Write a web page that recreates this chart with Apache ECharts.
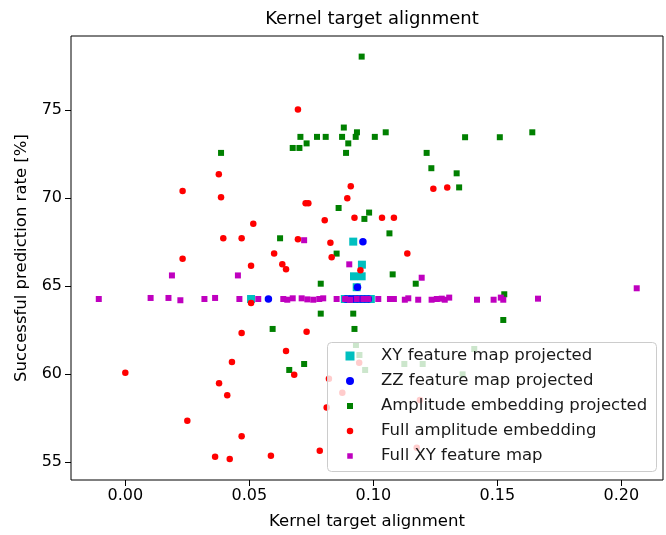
<!DOCTYPE html>
<html>
<head>
<meta charset="utf-8">
<script src="https://cdn.jsdelivr.net/npm/echarts@6/dist/echarts.min.js"></script>
<style>html,body{margin:0;padding:0;background:#fff}#c{width:666px;height:535px}</style>
</head>
<body>
<div id="c"></div>
<script>
const seriesNames = ['XY feature map projected','ZZ feature map projected','Amplitude embedding projected','Full amplitude embedding','Full XY feature map'];
const xTicks = [0, 0.05, 0.10, 0.15, 0.20];
const yTicks = [55, 60, 65, 70, 75];

const xyProjected = [[0.0507,64.26],[0.0919,67.52],[0.0954,66.21],[0.0922,65.55],[0.0953,65.55],[0.0933,64.93],
  [0.0885,64.26],[0.0900,64.26],[0.0915,64.26],[0.0930,64.26],[0.0945,64.26],[0.0960,64.26],[0.0975,64.26],[0.0990,64.26]];

const zzProjected = [[0.0958,67.52],[0.0936,64.93],[0.0577,64.26],
  [0.0890,64.26],[0.0905,64.26],[0.0920,64.26],[0.0935,64.26],[0.0950,64.26],[0.0965,64.26],[0.0980,64.26]];

const ampProjected = [[0.0953,78.03],[0.0386,72.56],[0.0706,73.47],[0.0675,72.84],[0.0702,72.84],[0.0731,73.10],
  [0.0773,73.47],[0.0808,73.47],[0.0881,74.00],[0.0874,73.47],[0.0899,73.10],[0.0890,72.56],[0.0929,73.47],
  [0.0934,73.73],[0.1006,73.47],[0.1050,73.73],[0.1215,72.56],[0.1234,71.69],[0.1370,73.45],[0.1510,73.45],
  [0.1641,73.73],[0.1336,71.40],[0.1346,70.60],[0.0860,69.43],[0.0983,69.17],[0.0964,68.81],[0.1065,67.99],
  [0.0624,67.71],[0.0852,66.84],[0.1078,65.66],[0.1171,65.13],[0.0788,65.13],[0.0788,63.43],[0.0919,63.43],
  [0.0594,62.56],[0.0924,62.56],[0.1528,64.53],[0.1524,63.07],[0.0661,60.23],[0.0721,60.57],[0.0930,61.65],
  [0.0944,61.08],[0.0967,60.23],[0.1125,60.57],[0.1199,60.57],[0.1407,61.42],[0.1360,59.98]];

const fullAmp = [[0.0696,75.02],[0.0377,71.35],[0.0231,70.40],[0.0386,70.04],[0.0909,70.66],[0.1242,70.53],
  [0.1298,70.60],[0.0895,69.98],[0.0727,69.70],[0.0738,69.70],[0.0516,68.54],[0.0804,68.73],[0.0924,68.88],
  [0.1035,68.88],[0.1083,68.88],[0.0395,67.71],[0.0469,67.71],[0.0696,67.65],[0.0827,67.46],[0.0600,66.84],
  [0.0832,66.63],[0.1137,66.84],[0.0231,66.55],[0.0507,66.15],[0.0633,66.23],[0.0648,65.95],[0.0948,65.89],
  [0.0507,64.03],[0.0469,62.33],[0.0731,62.40],[0.0648,61.31],[0.0681,59.96],[0.0430,60.68],[0.0000,60.07],
  [0.0378,59.47],[0.0411,58.79],[0.0250,57.35],[0.0469,56.46],[0.0362,55.30],[0.0421,55.17],[0.0587,55.36],
  [0.0784,55.64],[0.0943,60.64],[0.0821,59.73],[0.0875,58.94],[0.0812,58.10],[0.1188,58.52],[0.1175,55.81]];

const fullXY = [[0.0188,65.60],[0.0454,65.60],[0.0721,67.60],[0.0903,66.23],[0.1195,65.47],[0.2062,64.87],
  [-0.0107,64.26],[0.0102,64.32],[0.0174,64.32],[0.0222,64.19],[0.0319,64.26],[0.0362,64.32],[0.0460,64.26],
  [0.0536,64.26],[0.0637,64.26],[0.0653,64.22],[0.0675,64.30],[0.0711,64.30],[0.0734,64.24],[0.0758,64.22],
  [0.0782,64.26],[0.0798,64.30],[0.0852,64.26],[0.0886,64.26],[0.0906,64.22],[0.0933,64.26],[0.0960,64.26],
  [0.0980,64.26],[0.1020,64.26],[0.1067,64.26],[0.1083,64.26],[0.1127,64.22],[0.1141,64.30],[0.1181,64.22],
  [0.1235,64.22],[0.1256,64.26],[0.1276,64.28],[0.1288,64.22],[0.1306,64.34],[0.1418,64.22],[0.1485,64.22],
  [0.1514,64.34],[0.1524,64.22],[0.1664,64.28]];

const allData = [xyProjected, zzProjected, ampProjected, fullAmp, fullXY];
const colors = ['#00bfbf','#0000ff','#008000','#ff0000','#bf00bf'];
const symbols = ['rect','circle','rect','circle','rect'];
const sizes = [8,7.5,6,6.5,6];
const legendSizes = [9,8,6,6.5,5.5];
const legendRows = [356,381,406,431,456];
const FONT = 'DejaVu Sans';

const chart = echarts.init(document.getElementById('c'), null, {renderer:'canvas'});

const legends = seriesNames.map((n,i)=>({
  data:[{name:n, icon:symbols[i]}],
  left: 350 - legendSizes[i]/2,
  top: legendRows[i] - 10,
  padding: 0,
  itemWidth: legendSizes[i],
  itemHeight: legendSizes[i],
  selectedMode: false,
  z: 20,
  textStyle:{fontFamily:FONT, fontSize:16.5, color:'#1a1a1a', lineHeight:20, padding:[0,0,0,26-legendSizes[i]/2]}
}));

chart.setOption({
  animation:false,
  backgroundColor:'#ffffff',
  title:{text:'Kernel target alignment', left:367, top:5, textAlign:'center',
    textStyle:{fontFamily:FONT, fontSize:18, fontWeight:'normal', color:'#000'}},
  grid:{left:71, right:3, top:36, bottom:55, containLabel:false, outerBoundsMode:'none',
    show:true, borderColor:'#000', borderWidth:1, backgroundColor:'transparent'},
  legend: legends,
  graphic:{elements:[{type:'rect', z:10, shape:{x:327.5,y:342.5,width:329,height:129,r:4},
    style:{fill:'rgba(255,255,255,0.8)', stroke:'#cccccc', lineWidth:1}}]},
  xAxis:{type:'value', min:-0.0219, max:0.2168, position:'bottom',
    name:'Kernel target alignment', nameLocation:'middle', nameGap:33,
    nameTextStyle:{fontFamily:FONT, fontSize:16.5, color:'#000'},
    axisLine:{show:false, onZero:false}, splitLine:{show:false},
    axisTick:{show:true, inside:false, length:6, lineStyle:{color:'#000'}, customValues:xTicks},
    axisLabel:{show:true, margin:8, fontFamily:FONT, fontSize:16, color:'#000', customValues:xTicks,
      formatter:v=>Number(v).toFixed(2)}},
  yAxis:{type:'value', min:53.98, max:79.20, position:'left',
    name:'Successful prediction rate [%]', nameLocation:'middle', nameGap:41, nameRotate:90,
    nameTextStyle:{fontFamily:FONT, fontSize:16.5, color:'#000'},
    axisLine:{show:false, onZero:false}, splitLine:{show:false},
    axisTick:{show:true, inside:false, length:6, lineStyle:{color:'#000'}, customValues:yTicks},
    axisLabel:{show:true, margin:9, fontFamily:FONT, fontSize:16, color:'#000', customValues:yTicks,
      formatter:v=>String(Math.round(v))}},
  series: seriesNames.map((n,i)=>({
    name:n, type:'scatter', data:allData[i], symbol:symbols[i], symbolSize:sizes[i],
    itemStyle:{color:colors[i], opacity:1}, z:2+i*0.01, emphasis:{disabled:true}
  }))
});
</script>
</body>
</html>
